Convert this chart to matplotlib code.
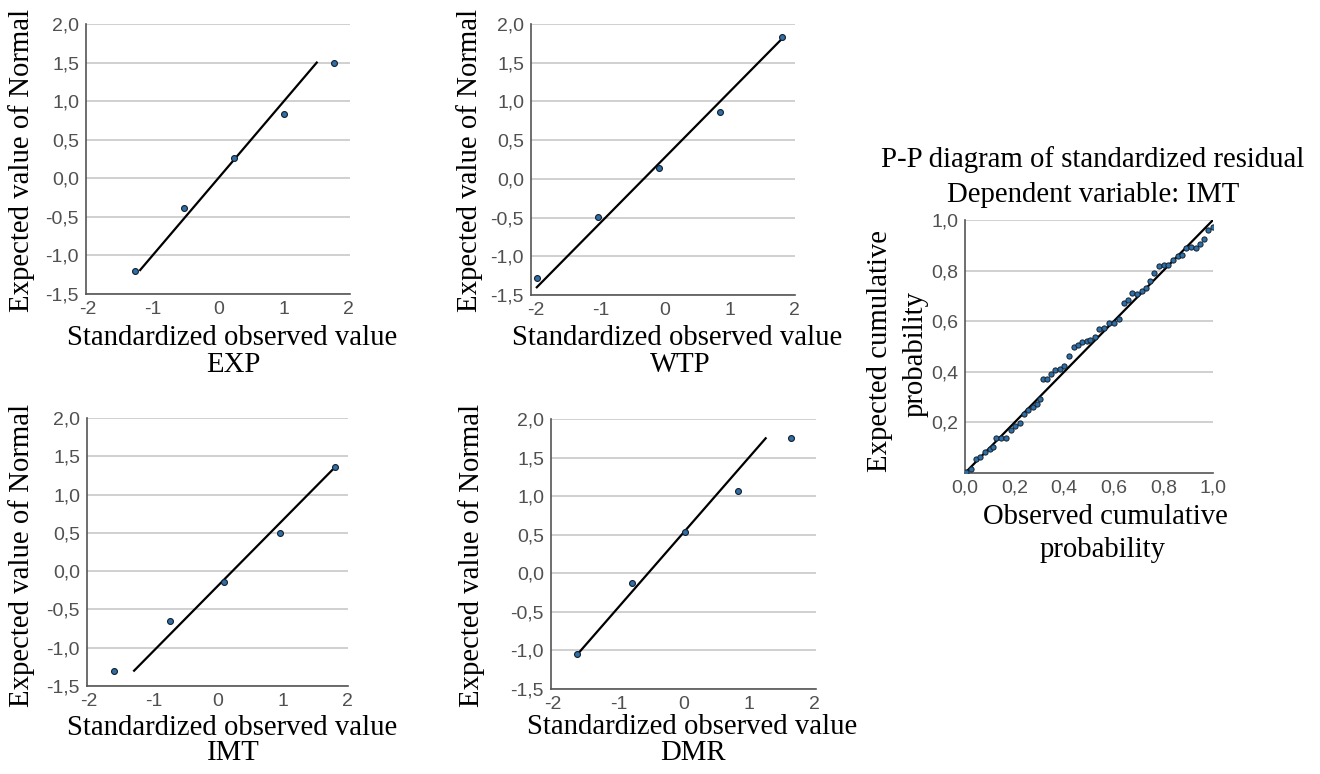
import matplotlib
matplotlib.use("Agg")
import matplotlib.pyplot as plt

W, H = 1320, 774

# ---- data ----
exp_x = [-1.28, -0.52, 0.24, 1.00, 1.77]
exp_y = [-1.20, -0.38, 0.26, 0.83, 1.50]
exp_line_x = [-1.20, 1.51]
exp_line_y = [-1.19, 1.50]

wtp_x = [-1.98, -1.04, -0.09, 0.85, 1.81]
wtp_y = [-1.28, -0.49, 0.14, 0.86, 1.83]
wtp_line_x = [-1.99, 1.79]
wtp_line_y = [-1.40, 1.79]

imt_x = [-1.61, -0.75, 0.10, 0.96, 1.81]
imt_y = [-1.31, -0.65, -0.14, 0.50, 1.36]
imt_line_x = [-1.30, 1.77]
imt_line_y = [-1.30, 1.32]

dmr_x = [-1.63, -0.80, 0.02, 0.83, 1.64]
dmr_y = [-1.05, -0.12, 0.53, 1.07, 1.75]
dmr_line_x = [-1.63, 1.25]
dmr_line_y = [-1.05, 1.75]

qq_xticks = [-2, -1, 0, 1, 2]
qq_yticks = [-1.5, -1.0, -0.5, 0.0, 0.5, 1.0, 1.5, 2.0]
qq_yticklabels = ["-1,5", "-1,0", "-0,5", "0,0", "0,5", "1,0", "1,5", "2,0"]

pp_obs = [0.003, 0.026, 0.046, 0.062, 0.080, 0.100, 0.114, 0.127, 0.147, 0.165,
          0.184, 0.203, 0.222, 0.238, 0.256, 0.273, 0.290, 0.303, 0.314, 0.330,
          0.346, 0.364, 0.382, 0.401, 0.418, 0.438, 0.455, 0.472, 0.490, 0.506,
          0.524, 0.541, 0.560, 0.581, 0.601, 0.621, 0.641, 0.658, 0.675, 0.693,
          0.712, 0.729, 0.747, 0.763, 0.784, 0.804, 0.820, 0.838, 0.858, 0.874,
          0.892, 0.912, 0.930, 0.946, 0.963, 0.980, 1.000]
pp_exp = [0.004, 0.017, 0.057, 0.063, 0.083, 0.096, 0.103, 0.139, 0.139, 0.139,
          0.169, 0.186, 0.198, 0.232, 0.248, 0.261, 0.274, 0.294, 0.373, 0.371,
          0.393, 0.406, 0.412, 0.422, 0.462, 0.499, 0.505, 0.518, 0.521, 0.525,
          0.536, 0.571, 0.575, 0.591, 0.593, 0.608, 0.673, 0.683, 0.712, 0.707,
          0.720, 0.730, 0.760, 0.792, 0.818, 0.822, 0.822, 0.842, 0.858, 0.862,
          0.888, 0.892, 0.888, 0.905, 0.923, 0.960, 0.971]
pp_line_x = [0.0, 1.0]
pp_line_y = [0.0, 1.0]
pp_xticks = [0.0, 0.2, 0.4, 0.6, 0.8, 1.0]
pp_xticklabels = ["0,0", "0,2", "0,4", "0,6", "0,8", "1,0"]
pp_yticks = [0.2, 0.4, 0.6, 0.8, 1.0]
pp_yticklabels = ["0,2", "0,4", "0,6", "0,8", "1,0"]

SERIF = ["Liberation Serif", "DejaVu Serif"]
SANS = ["Liberation Sans", "DejaVu Sans"]
TICK_COLOR = "#505050"
GRID_COLOR = "#c8c8c8"
SPINE_COLOR = "#555555"
PT_FACE = "#2e6fa8"
PT_EDGE = "#14202c"
FS = 20.7
TFS = 14

fig = plt.figure(figsize=(W / 100, H / 100), dpi=100)


def ax_at(left, top, right, bottom):
    return fig.add_axes([left / W, 1 - bottom / H, (right - left) / W, (bottom - top) / H])


def style(ax):
    for s in ("top", "right"):
        ax.spines[s].set_visible(False)
    for s in ("left", "bottom"):
        ax.spines[s].set_color(SPINE_COLOR)
        ax.spines[s].set_linewidth(1.2)
    ax.tick_params(axis="x", length=0, pad=5, labelsize=TFS, colors=TICK_COLOR)
    ax.tick_params(axis="y", length=0, pad=5, labelsize=TFS, colors=TICK_COLOR)
    for lab in ax.get_xticklabels() + ax.get_yticklabels():
        lab.set_family(SANS)
    ax.grid(axis="y", color=GRID_COLOR, linewidth=1.2)
    ax.set_axisbelow(True)


def qq(box, xl, xs, ys, lx, ly, name, xlab_pos, name_pos, ylab_pos):
    ax = ax_at(*box)
    ax.plot(lx, ly, color="black", linewidth=1.6, zorder=2)
    ax.scatter(xs, ys, s=18, facecolor=PT_FACE, edgecolor=PT_EDGE, linewidth=0.8, zorder=3)
    ax.set_xlim(*xl)
    ax.set_ylim(-1.5, 2.0)
    ax.set_xticks(qq_xticks)
    ax.set_xticklabels([str(t) for t in qq_xticks])
    ax.set_yticks(qq_yticks)
    ax.set_yticklabels(qq_yticklabels)
    style(ax)
    fig.text(xlab_pos[0] / W, 1 - xlab_pos[1] / H, "Standardized observed value",
             family=SERIF, fontsize=FS, ha="center", va="center")
    fig.text(name_pos[0] / W, 1 - name_pos[1] / H, name,
             family=SERIF, fontsize=FS, ha="center", va="center")
    fig.text(ylab_pos[0] / W, 1 - ylab_pos[1] / H, "Expected value of Normal",
             family=SERIF, fontsize=FS, ha="center", va="center", rotation=90)
    return ax


qq((86, 24, 350, 294), (-2.03, 2.02), exp_x, exp_y, exp_line_x, exp_line_y, "EXP",
   (232, 338), (233, 365), (22, 160))
qq((531, 24, 795, 295), (-2.08, 2.015), wtp_x, wtp_y, wtp_line_x, wtp_line_y, "WTP",
   (677, 338), (680, 365), (470, 160))
qq((87, 418, 348, 686), (-2.03, 2.015), imt_x, imt_y, imt_line_x, imt_line_y, "IMT",
   (232, 728), (233, 753), (22, 555))
qq((551, 419, 816, 689), (-2.035, 2.02), dmr_x, dmr_y, dmr_line_x, dmr_line_y, "DMR",
   (692, 727), (693, 753), (472, 555))

# ---- P-P plot ----
ax = ax_at(965, 220, 1213, 473)
ax.plot(pp_line_x, pp_line_y, color="black", linewidth=1.6, zorder=2)
ax.scatter(pp_obs, pp_exp, s=14, facecolor=PT_FACE, edgecolor=PT_EDGE, linewidth=0.7, zorder=3)
ax.set_xlim(0, 1)
ax.set_ylim(0, 1)
ax.set_xticks(pp_xticks)
ax.set_xticklabels(pp_xticklabels)
ax.set_yticks(pp_yticks)
ax.set_yticklabels(pp_yticklabels)
style(ax)
fig.text(1093 / W, 1 - 160 / H, "P-P diagram of standardized residual",
         family=SERIF, fontsize=FS, ha="center", va="center")
fig.text(1093 / W, 1 - 195 / H, "Dependent variable: IMT",
         family=SERIF, fontsize=FS, ha="center", va="center")
fig.text(880 / W, 1 - 351 / H, "Expected cumulative",
         family=SERIF, fontsize=FS, ha="center", va="center", rotation=90)
fig.text(916 / W, 1 - 354 / H, "probability",
         family=SERIF, fontsize=FS, ha="center", va="center", rotation=90)
fig.text(1105 / W, 1 - 517 / H, "Observed cumulative",
         family=SERIF, fontsize=FS, ha="center", va="center")
fig.text(1103 / W, 1 - 550 / H, "probability",
         family=SERIF, fontsize=FS, ha="center", va="center")

fig.savefig("out.png", dpi=100)
